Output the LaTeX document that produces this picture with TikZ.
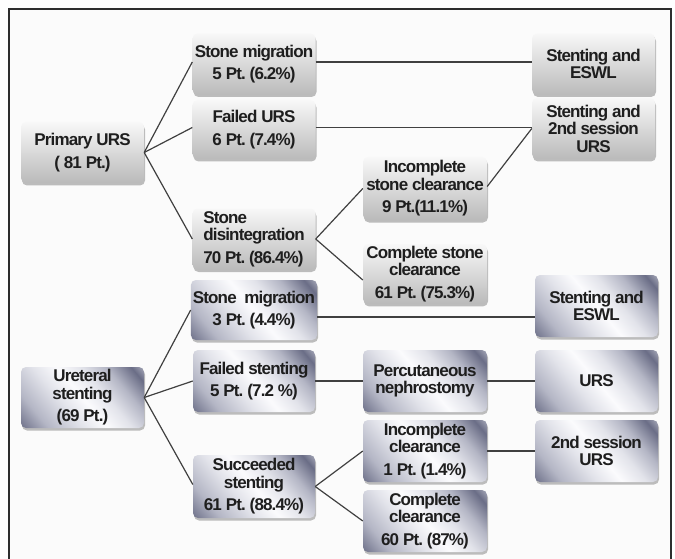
\documentclass[tikz,border=0pt]{standalone}
\usepackage{fontspec}
\setmainfont{Liberation Sans}[LetterSpace=-5]
\usetikzlibrary{shadows}
\frenchspacing
\definecolor{txt}{HTML}{1E1E1E}
\definecolor{lt}{HTML}{F8F8F8}
\definecolor{lb}{HTML}{BABABA}
\definecolor{mA}{HTML}{6A6D86}
\definecolor{mB}{HTML}{B4B6C5}
\definecolor{mC}{HTML}{E2E3EA}
\definecolor{mD}{HTML}{FBFBFD}
\definecolor{linec}{HTML}{404040}
\definecolor{framec}{HTML}{2E2E2E}
\definecolor{bgc}{HTML}{FBFBFB}
\pgfdeclarehorizontalshading{metal}{100bp}{color(0bp)=(mB); color(14bp)=(mA); color(26bp)=(mB); color(40bp)=(mC); color(50bp)=(mD); color(60bp)=(mC); color(70bp)=(mB); color(80bp)=(mA); color(90bp)=(mC); color(100bp)=(mB)}
\tikzset{
  box/.style={rounded corners=5pt, minimum width=123pt, minimum height=61pt,
    align=center, inner sep=2pt, text=txt,
    font=\fontsize{17}{17.5}\selectfont\bfseries\frenchspacing,
    drop shadow={shadow xshift=1pt, shadow yshift=-2.5pt, opacity=0.25, fill=black}},
  lightbox/.style={box, top color=lt, bottom color=lb},
  metalbox/.style={box, shading=metal, shading angle=40},
  conn/.style={draw=linec, line width=1.2pt}
}
\begin{document}
\begin{tikzpicture}[x=1pt,y=-1pt]
\useasboundingbox (0,0) rectangle (675,559);
\fill[white] (0,0) rectangle (675,559);
\fill[bgc] (9,9) rectangle (671,559);
\draw[framec, line width=1.8pt] (9,559) -- (9,9) -- (671,9) -- (671,559);

% upper tree
\node[lightbox] (pu) at (82.5,152.5) {Primary URS\\[6pt]( 81 Pt.)};
\node[lightbox] (sm1) at (254,64) {Stone migration\\[5pt]5 Pt. (6.2\%)};
\node[lightbox, minimum height=59pt] (fu) at (254,129.5) {Failed URS\\[5pt]6 Pt. (7.4\%)};
\node[lightbox, align=left] (sd) at (254,239) {Stone\\disintegration\\[5pt]70 Pt. (86.4\%)};
\node[lightbox] (se1) at (593.5,64) {Stenting and\\ESWL};
\node[lightbox] (s2) at (593.5,128.5) {Stenting and\\2nd session\\URS};
\node[lightbox, minimum width=124pt, minimum height=63pt] (isc) at (425,188.5) {Incomplete\\stone clearance\\[5pt]9 Pt.(11.1\%)};
\node[lightbox, minimum width=124pt, minimum height=59pt] (csc) at (425,274) {Complete stone\\clearance\\[5pt]61 Pt. (75.3\%)};

% lower tree
\node[metalbox] (us) at (82.5,397.5) {Ureteral\\stenting\\[5pt](69 Pt.)};
\node[metalbox, minimum width=122pt, minimum height=60pt] (sm2) at (254,310) {Stone\ \ migration\\[5pt]3 Pt. (4.4\%)};
\node[metalbox, minimum width=122pt, minimum height=62pt] (fs) at (254,381) {Failed stenting\\[5pt]5 Pt. (7.2 \%)};
\node[metalbox, minimum width=122pt, minimum height=63pt] (ss) at (254,486.5) {Succeeded\\stenting\\[5pt]61 Pt. (88.4\%)};
\node[metalbox, minimum height=62pt] (se2) at (596.5,306) {Stenting and\\ESWL};
\node[metalbox, minimum width=124pt, minimum height=62pt] (pn) at (425,381) {Percutaneous\\nephrostomy};
\node[metalbox, minimum height=62pt] (urs) at (596.5,381) {URS};
\node[metalbox, minimum width=124pt, minimum height=62pt] (ic) at (425,451) {Incomplete\\clearance\\[5pt]1 Pt. (1.4\%)};
\node[metalbox, minimum height=62pt] (s2u) at (596.5,451) {2nd session\\URS};
\node[metalbox, minimum width=124pt, minimum height=62pt] (cc) at (425,521) {Complete\\clearance\\[5pt]60 Pt. (87\%)};

% connectors upper
\draw[conn] (pu.east) -- ([yshift=2pt]sm1.west);
\draw[conn] (pu.east) -- ([yshift=2pt]fu.west);
\draw[conn] (pu.east) -- (sd.west);
\draw[conn] ([yshift=2pt]sm1.east) -- ([yshift=2pt]sm1.east -| se1.west);
\draw[conn] ([yshift=2pt]fu.east) -- ([yshift=2pt]fu.east -| s2.west);
\draw[conn] (sd.east) -- (isc.west);
\draw[conn] (sd.east) -- ([yshift=-6pt]csc.west);
\draw[conn] ([yshift=2pt]isc.east) -- (s2.west);

% connectors lower
\draw[conn] (us.east) -- (sm2.west);
\draw[conn] (us.east) -- (fs.west);
\draw[conn] (us.east) -- ([yshift=2pt]ss.west);
\draw[conn] ([yshift=-7pt]sm2.east) -- ([yshift=-7pt]sm2.east -| se2.west);
\draw[conn] (fs.east) -- (pn.west);
\draw[conn] (pn.east) -- (urs.west);
\draw[conn] (ss.east) -- (ic.west);
\draw[conn] (ss.east) -- (cc.west);
\draw[conn] (ic.east) -- (s2u.west);
\end{tikzpicture}
\end{document}
